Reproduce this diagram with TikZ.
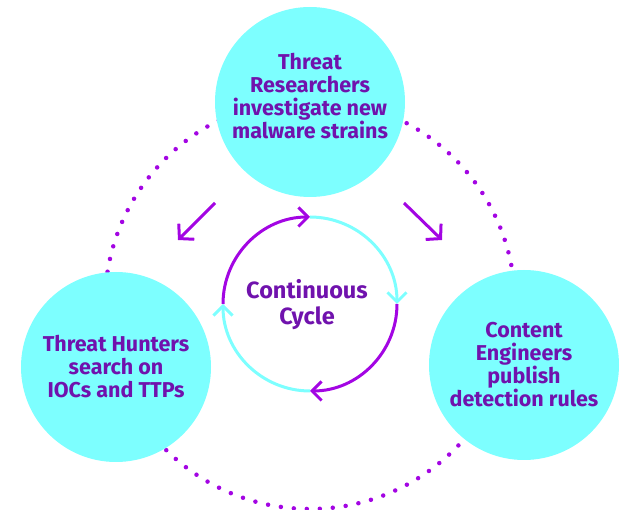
\documentclass[tikz,border=0pt]{standalone}
\usepackage{fontspec}
\setmainfont{Fira Sans}
\usetikzlibrary{arrows.meta}
\definecolor{roleCyan}{HTML}{7DFFFF}
\definecolor{lineViolet}{HTML}{A305E3}
\definecolor{textViolet}{HTML}{7012AD}

\begin{document}
\begin{tikzpicture}[
      x = 1pt, y = -1pt,
      every node/.style = {
        align = center, text = textViolet,
        font = \fontsize{21.5}{23}\selectfont\bfseries},
      role/.style = {circle, fill = roleCyan, minimum size = 190pt, inner sep = 0pt},
      flow/.style = {lineViolet, line width = 3pt,
        -{Straight Barb[length = 10pt, width = 22pt, line join = miter]}},
      turnV/.style = {lineViolet, line width = 3pt,
        -{Straight Barb[length = 9.5pt, width = 19pt]}},
      turnC/.style = {roleCyan, line width = 3pt,
        -{Straight Barb[length = 9.5pt, width = 19pt]}},
      ring/.style = {lineViolet, line width = 4.5pt, line cap = round,
        dash pattern = on 0pt off 13.01pt}
      ]
    \useasboundingbox (0,0) rectangle (625,510);
    \coordinate (hub) at (310,304);
    % dotted ring behind the three roles
    \draw[ring] (hub) circle[radius = 205];
    \node[role] (res) at (310,102) {};
    \node (resT) at (310,96) {Threat\\Researchers\\investigate new\\malware strains};
    \node[role] (hun) at (116,367) {Threat Hunters\\search on\\IOCs and TTPs};
    \node[role] (eng) at (524,365) {Content\\Engineers\\publish\\detection rules};
    \node[font = \fontsize{23.5}{26}\selectfont\bfseries] (cyc) at (307,305) {Continuous\\Cycle};
    % arrows out of the top circle
    \coordinate (resL) at (215,203);
    \coordinate (hunT) at (178,240);
    \coordinate (resR) at (404,203);
    \coordinate (engT) at (442,240);
    \draw[flow] (resL) -- (hunT);
    \draw[flow] (resR) -- (engT);
    % the cycle (y axis points down, so angles run clockwise)
    \draw[turnV] ([shift = {(180:87)}]hub) arc[start angle = 180, end angle = 270, radius = 87];
    \draw[turnC] ([shift = {(270:87)}]hub) arc[start angle = 270, end angle = 360, radius = 87];
    \draw[turnV] ([shift = {(0:87)}]hub) arc[start angle = 0, end angle = 90, radius = 87];
    \draw[turnC] ([shift = {(90:87)}]hub) arc[start angle = 90, end angle = 180, radius = 87];
  \end{tikzpicture}
\end{document}
